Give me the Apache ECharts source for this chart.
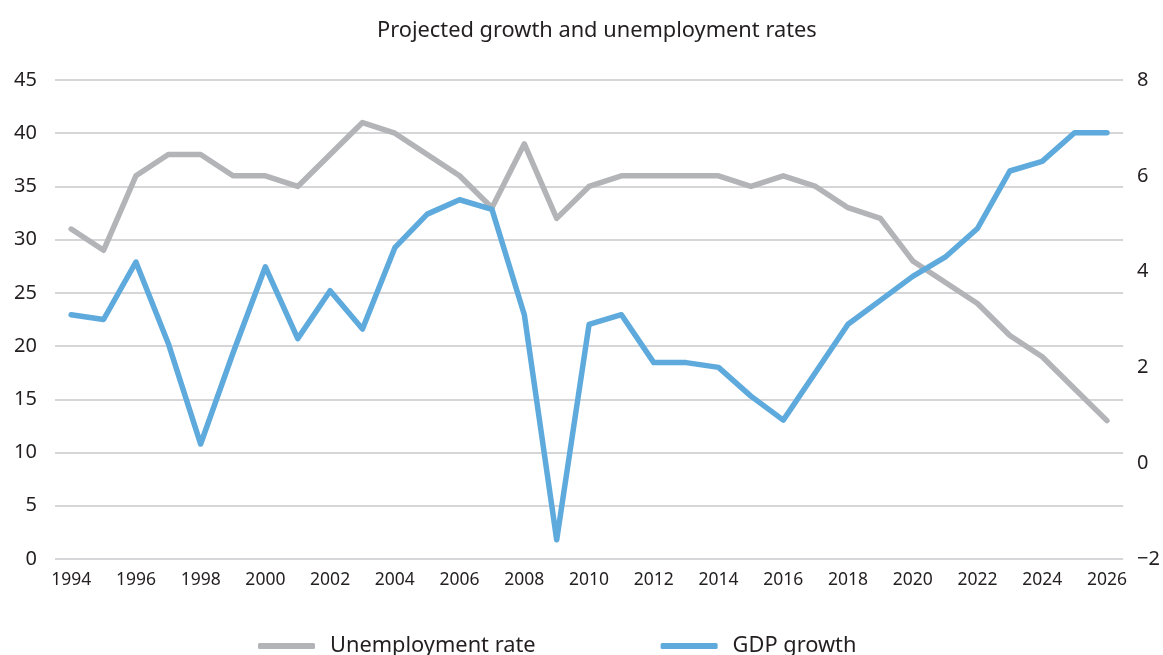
<!DOCTYPE html>
<html>
<head>
<meta charset="utf-8">
<script src="https://cdn.jsdelivr.net/npm/echarts@6/dist/echarts.min.js"></script>
<style>
html,body{margin:0;padding:0;background:#fff;}
#chart{width:1163px;height:655px;}
</style>
</head>
<body>
<div id="chart"></div>
<script>
const years = ['1994','1995','1996','1997','1998','1999','2000','2001','2002','2003','2004','2005','2006','2007','2008','2009','2010','2011','2012','2013','2014','2015','2016','2017','2018','2019','2020','2021','2022','2023','2024','2025','2026'];
const unemployment = [31,29,36,38,38,36,36,35,38,41,40,38,36,33,39,32,35,36,36,36,36,35,36,35,33,32,28,26,24,21,19,16,13];
const gdpGrowth = [3.1,3.0,4.2,2.5,0.4,2.3,4.1,2.6,3.6,2.8,4.5,5.2,5.5,5.3,3.1,-1.6,2.9,3.1,2.1,2.1,2.0,1.4,0.9,1.9,2.9,3.4,3.9,4.3,4.9,6.1,6.3,6.9,6.9];
const leftTicks = {min:0,max:45,interval:5};
const rightTicks = {min:-2,max:8,interval:2};

const font = 'Noto Sans';
const chart = echarts.init(document.getElementById('chart'));
chart.setOption({
  animation:false,
  textStyle:{fontFamily:font},
  title:{
    text:'Projected growth and unemployment rates',
    left:372, top:15,
    textStyle:{fontFamily:font,fontSize:21.8,fontWeight:'normal',color:'#231f20'}
  },
  legend:{
    top:630, left:253,
    itemWidth:57, itemHeight:6, itemGap:125,
    icon:'roundRect',
    textStyle:{fontFamily:font,fontSize:21.8,color:'#231f20',padding:[0,0,0,10]},
    data:['Unemployment rate','GDP growth']
  },
  grid:{left:55,right:38,top:80,bottom:96,containLabel:false},
  xAxis:{
    type:'category',
    data:years,
    boundaryGap:true,
    axisLine:{show:false},
    axisTick:{show:false},
    axisLabel:{interval:1,color:'#231f20',fontSize:17.5,margin:12,fontFamily:font}
  },
  yAxis:[
    {
      type:'value', min:leftTicks.min, max:leftTicks.max, interval:leftTicks.interval,
      position:'left',
      axisLine:{show:false}, axisTick:{show:false},
      axisLabel:{color:'#231f20',fontSize:20,margin:18,fontFamily:font},
      splitLine:{show:true,lineStyle:{color:'#c8c9cb',width:1.5}}
    },
    {
      type:'value', min:rightTicks.min, max:rightTicks.max, interval:rightTicks.interval,
      position:'right',
      axisLine:{show:false}, axisTick:{show:false},
      axisLabel:{color:'#231f20',fontSize:20,margin:14,fontFamily:font,
        formatter:function(v){return v<0?'\u2212'+Math.abs(v):String(v);}},
      splitLine:{show:false}
    }
  ],
  series:[
    {
      name:'Unemployment rate', type:'line', yAxisIndex:0, data:unemployment,
      symbol:'none', lineStyle:{color:'#b3b4b7',width:5.5,cap:'round',join:'round'},
      itemStyle:{color:'#b3b4b7'}
    },
    {
      name:'GDP growth', type:'line', yAxisIndex:1, data:gdpGrowth,
      symbol:'none', lineStyle:{color:'#5eaadc',width:5.5,cap:'round',join:'round'},
      itemStyle:{color:'#5eaadc'}
    }
  ]
});
</script>
</body>
</html>
